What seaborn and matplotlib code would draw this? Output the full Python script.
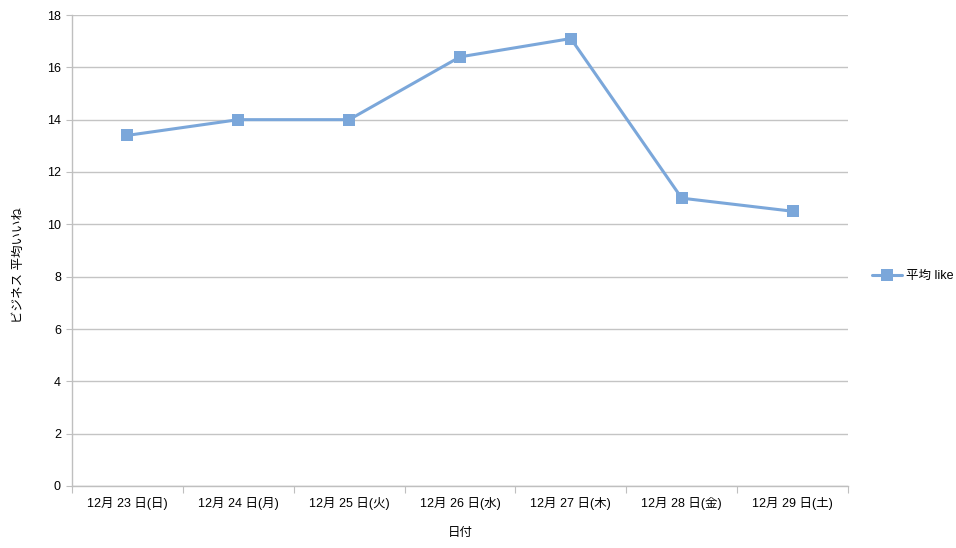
import numpy as np
import pandas as pd
import matplotlib
matplotlib.use("Agg")
import matplotlib.pyplot as plt
import seaborn as sns

# data
dates = ["12月 23 日(日)", "12月 24 日(月)", "12月 25 日(火)", "12月 26 日(水)",
         "12月 27 日(木)", "12月 28 日(金)", "12月 29 日(土)"]
avg_like = [13.4, 14.0, 14.0, 16.4, 17.1, 11.0, 10.5]
series_name = "平均 like"

sns.set_style("white")
plt.rcParams['font.family'] = ['Liberation Sans', 'Noto Sans CJK JP', 'DejaVu Sans']
plt.rcParams['text.color'] = 'black'
plt.rcParams['axes.labelcolor'] = 'black'
plt.rcParams['xtick.labelcolor'] = 'black'
plt.rcParams['ytick.labelcolor'] = 'black'

df = pd.DataFrame({"日付": dates, "value": avg_like, "series": series_name})

fig = plt.figure(figsize=(9.56, 5.48), dpi=100)
ax = fig.add_axes([72 / 956, 1 - 486 / 548, (848 - 72) / 956, (486 - 15) / 548])

line_color = "#7ba7da"
sns.lineplot(data=df, x="日付", y="value", hue="series", palette=[line_color],
             marker="s", markersize=9, markeredgewidth=0, linewidth=2.2,
             sort=False, ax=ax)

ax.set_xlim(-0.5, len(dates) - 0.5)
ax.set_ylim(0, 18)
ax.set_yticks(np.arange(0, 19, 2))
ax.yaxis.grid(True, color="#c4c4c4", linewidth=1)
ax.set_axisbelow(True)

# x ticks at category boundaries, labels at centres
ax.set_xticks(np.arange(-0.5, len(dates), 1.0))
ax.set_xticklabels([])
ax.set_xticks(np.arange(len(dates)), minor=True)
ax.set_xticklabels(dates, minor=True)
ax.tick_params(axis="x", which="major", length=5, color="#bfbfbf", direction="out", bottom=True)
ax.tick_params(axis="x", which="minor", length=0, labelsize=9, pad=8)
ax.tick_params(axis="y", length=4, color="#bfbfbf", direction="out", left=True, labelsize=9, pad=4)

for side in ["top", "right"]:
    ax.spines[side].set_visible(False)
for side in ["left", "bottom"]:
    ax.spines[side].set_color("#bfbfbf")
    ax.spines[side].set_linewidth(1)

ax.set_xlabel("日付", fontsize=9, labelpad=12)
ax.set_ylabel("ビジネス 平均いいね", fontsize=9)
ax.yaxis.set_label_coords(-0.06, 0.47)

handles, labels = ax.get_legend_handles_labels()
ax.legend(handles, labels, loc="center left", bbox_to_anchor=(1.017, 0.445),
          frameon=False, fontsize=9, handlelength=2.4, handletextpad=0.3)

fig.savefig("out.png", dpi=100)
